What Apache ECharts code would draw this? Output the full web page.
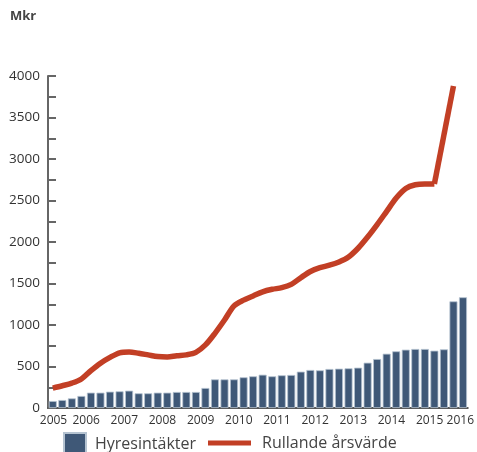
<!DOCTYPE html>
<html>
<head>
<meta charset="utf-8">
<script src="https://cdn.jsdelivr.net/npm/echarts@6/dist/echarts.min.js"></script>
<style>
  html, body { margin: 0; padding: 0; background: #fff; }
  #chart { width: 477px; height: 452px; }
</style>
</head>
<body>
<div id="chart"></div>
<script>
// Quarterly rental income (Mkr), 2005 Q1 – 2015 Q4
const rentalIncome = [
  84, 96, 116, 145, 185, 185, 197, 201, 209, 177, 177, 185,
  185, 193, 193, 193, 241, 345, 345, 345, 370, 382, 401, 382,
  394, 398, 438, 458, 454, 470, 474, 478, 486, 546, 590, 654,
  683, 703, 711, 711, 691, 707, 1285, 1334
];
// Rolling annual value (Mkr), per quarter
const rollingAnnual = [
  240, 268, 300, 350, 450, 540, 610, 665, 675, 660, 640, 620,
  615, 630, 640, 670, 760, 900, 1060, 1230, 1300, 1350, 1400, 1430,
  1450, 1490, 1570, 1645, 1690, 1720, 1760, 1820, 1925, 2060, 2210, 2370,
  2530, 2645, 2690, 2700, 2700, 3290, 3880
];
const firstYear = 2005;
const yTicks = { min: 0, max: 4000, step: 500 };
const seriesNames = ['Hyresintäkter', 'Rullande årsvärde'];
// the last jump is drawn as straight segments from this quarter on
const jumpFrom = 40;

// quarter i is centred at i + 0.5 on a value axis, so year ticks land on boundaries
const barData = rentalIncome.map((v, i) => [i + 0.5, v]);
const lineData = rollingAnnual.map((v, i) => [i + 0.5, v]);
const quarterCount = rentalIncome.length;
const lastYear = firstYear + quarterCount / 4;

const font = '"Open Sans", "Noto Sans", sans-serif';
const red = '#c23f25';
const chart = echarts.init(document.getElementById('chart'), null, { renderer: 'canvas' });

const lineStyle = { color: red, width: 5.5, cap: 'butt', join: 'round' };

chart.setOption({
  animation: false,
  backgroundColor: '#ffffff',
  textStyle: { fontFamily: font },
  graphic: [{
    type: 'text',
    left: 10,
    top: 10,
    style: { text: 'Mkr', fontFamily: font, fontSize: 13, fontWeight: 'bold', fill: '#444' }
  }],
  grid: { left: 48, right: 8, top: 76, bottom: 44, containLabel: false },
  xAxis: {
    type: 'value',
    min: 0,
    max: quarterCount,
    interval: 4,
    axisLine: { show: true, onZero: false, lineStyle: { color: '#555', width: 2 } },
    axisTick: { show: false },
    splitLine: { show: false },
    axisLabel: {
      color: '#333',
      fontSize: 12,
      fontFamily: font,
      margin: 7,
      showMinLabel: true,
      showMaxLabel: true,
      formatter: function (v) {
        const year = firstYear + Math.round(v / 4);
        if (year === firstYear) return '{first|' + year + '}';
        if (year === lastYear) return '{last|' + year + '}';
        return String(year);
      },
      rich: {
        first: { fontSize: 12, color: '#333', fontFamily: font, padding: [0, 0, 0, 11] },
        last: { fontSize: 12, color: '#333', fontFamily: font, padding: [0, 15, 0, 0] }
      }
    }
  },
  yAxis: {
    type: 'value',
    min: yTicks.min,
    max: yTicks.max,
    interval: yTicks.step,
    axisLine: { show: true, lineStyle: { color: '#666', width: 2 } },
    axisTick: { show: true, inside: true, length: 8, lineStyle: { color: '#666', width: 2 } },
    minorTick: { show: true, splitNumber: 2, length: 8, lineStyle: { color: '#666', width: 2 } },
    splitLine: { show: false },
    axisLabel: {
      color: '#333', fontSize: 13.5, fontFamily: font, margin: 8,
      formatter: function (v) { return String(v); }
    }
  },
  legend: [
    {
      data: [seriesNames[0]],
      left: 63,
      top: 432,
      padding: 0,
      itemWidth: 22,
      itemHeight: 22,
      icon: 'rect',
      textStyle: { fontSize: 16, color: '#444', fontFamily: font, padding: [0, 0, 0, 4] }
    },
    {
      data: [seriesNames[1]],
      left: 208,
      top: 435,
      padding: 0,
      itemWidth: 43,
      itemHeight: 5,
      icon: 'rect',
      textStyle: { fontSize: 16, color: '#444', fontFamily: font, padding: [0, 0, 0, 6] }
    }
  ],
  series: [
    {
      name: seriesNames[0],
      type: 'bar',
      data: barData,
      barWidth: 8,
      itemStyle: { color: '#3f5877', borderColor: '#b5c3d1', borderWidth: 0.8 },
      z: 2
    },
    {
      name: seriesNames[1],
      type: 'line',
      data: lineData.slice(0, jumpFrom + 1),
      smooth: 0.3,
      showSymbol: false,
      symbol: 'none',
      lineStyle: lineStyle,
      itemStyle: { color: red },
      z: 3
    },
    {
      name: seriesNames[1],
      type: 'line',
      data: lineData.slice(jumpFrom),
      smooth: false,
      showSymbol: false,
      symbol: 'none',
      lineStyle: lineStyle,
      itemStyle: { color: red },
      z: 3
    }
  ]
});
</script>
</body>
</html>
